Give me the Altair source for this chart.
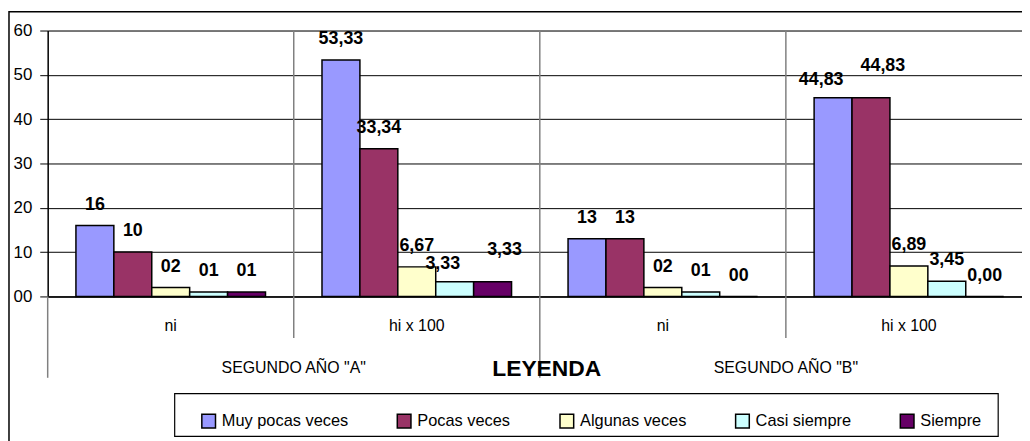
import altair as alt
import pandas as pd

# ---- data ----
series = ["Muy pocas veces", "Pocas veces", "Algunas veces", "Casi siempre", "Siempre"]
colors = ["#9999FF", "#993366", "#FFFFCC", "#CCFFFF", "#660066"]
groups = ["A|ni", "A|hi x 100", "B|ni", "B|hi x 100"]
group_labels = ["ni", "hi x 100", "ni", "hi x 100"]
sections = ['SEGUNDO AÑO "A"', 'SEGUNDO AÑO "B"']
section_groups = ["A|hi x 100", "B|hi x 100"]
vals_A_ni = [16, 10, 2, 1, 1]
vals_A_hi = [53.33, 33.34, 6.67, 3.33, 3.33]
vals_B_ni = [13, 13, 2, 1, 0]
vals_B_hi = [44.83, 44.83, 6.89, 3.45, 0.00]
y_ticks = [0, 10, 20, 30, 40, 50, 60]

FONT = "Liberation Sans"
W, H = 982, 268

rows = []
for g, vals in zip(groups, [vals_A_ni, vals_A_hi, vals_B_ni, vals_B_hi]):
    labs = []
    for v in vals:
        if g.endswith("|ni"):
            labs.append(f"{int(round(v)):02d}")
        else:
            labs.append(f"{v:.2f}".replace(".", ","))
    # stagger adjacent equal wide labels so they don't collide
    stag = ["mid"] * len(vals)
    for i in range(1, len(vals)):
        if vals[i] == vals[i - 1] and len(labs[i]) > 2 and vals[i] > 0:
            stag[i - 1] = "left" if stag[i - 1] == "mid" else stag[i - 1]
            stag[i] = "up"
    for s, v, lab, st in zip(series, vals, labs, stag):
        rows.append({"group": g, "serie": s, "value": v, "label": lab, "stag": st})
df = pd.DataFrame(rows)

gdf = pd.DataFrame({"group": groups, "glabel": group_labels,
                    "kind": ["long", "short", "long", "short"]})
sdf = pd.DataFrame({"group": section_groups, "section": sections})

xscale = alt.Scale(domain=groups, range=[0, 992], paddingInner=0, paddingOuter=0)
xoff = alt.Scale(domain=series, paddingInner=0, paddingOuter=0.745)
yscale = alt.Scale(domain=[0, 60], nice=False)

base_x = alt.X("group:N", scale=xscale, title=None,
               axis=alt.Axis(labels=False, ticks=False, domainColor="black",
                             domainWidth=1.5, grid=False))

bars = alt.Chart(df).mark_bar(stroke="black", strokeWidth=1.5).encode(
    x=base_x,
    xOffset=alt.XOffset("serie:N", scale=xoff, sort=series),
    y=alt.Y("value:Q", scale=yscale, title=None,
            axis=alt.Axis(values=y_ticks, format="02d", labelFont=FONT, labelFontSize=17,
                          labelColor="black", labelPadding=8, tickSize=8, tickColor="black",
                          domainColor="black", domainWidth=1.5, grid=True,
                          gridColor="black", gridWidth=1, gridOpacity=1)),
    color=alt.Color("serie:N", scale=alt.Scale(domain=series, range=colors), sort=series,
                    legend=alt.Legend(orient="none", legendX=154, legendY=385,
                                      direction="horizontal", title=None,
                                      symbolType="square", symbolSize=190,
                                      symbolStrokeColor="black", symbolStrokeWidth=1.5,
                                      symbolOpacity=1,
                                      labelFont=FONT, labelFontSize=16.5, labelColor="black",
                                      labelOffset=5, columnPadding=46, padding=0)),
)


def label_layer(stag, dx, dy):
    return alt.Chart(df).transform_filter(f"datum.stag == '{stag}'").mark_text(
        font=FONT, fontWeight="bold", fontSize=18, baseline="middle",
        dx=dx, dy=dy, color="black").encode(
        x=alt.X("group:N", scale=xscale, title=None),
        xOffset=alt.XOffset("serie:N", scale=xoff, sort=series),
        y=alt.Y("value:Q", scale=yscale, title=None),
        text="label:N",
    )


labels_mid = label_layer("mid", 0, -21)
labels_left = label_layer("left", -12, -18)
labels_up = label_layer("up", 12, -32)

grid_v = alt.Chart(gdf).transform_filter("datum.group != 'A|ni'").mark_rule(
    color="#808080", strokeWidth=1.5).encode(
    x=alt.X("group:N", scale=xscale, bandPosition=0, title=None),
    y=alt.value(0), y2=alt.value(H),
)
ticks_long = alt.Chart(gdf).transform_filter("datum.kind == 'long'").mark_rule(
    color="#808080", strokeWidth=1.5).encode(
    x=alt.X("group:N", scale=xscale, bandPosition=0, title=None),
    y=alt.value(H), y2=alt.value(H + 82),
)
ticks_short = alt.Chart(gdf).transform_filter("datum.kind == 'short'").mark_rule(
    color="#808080", strokeWidth=1.5).encode(
    x=alt.X("group:N", scale=xscale, bandPosition=0, title=None),
    y=alt.value(H), y2=alt.value(H + 42),
)

inner = alt.Chart(gdf).mark_text(font=FONT, fontSize=16, baseline="middle",
                                 align="center", color="black").encode(
    x=alt.X("group:N", scale=xscale, title=None),
    y=alt.value(H + 30),
    text="glabel:N",
)

sect = alt.Chart(sdf).mark_text(font=FONT, fontSize=16, baseline="middle",
                                align="center", color="black").encode(
    x=alt.X("group:N", scale=xscale, bandPosition=0, title=None),
    y=alt.value(H + 72),
    text="section:N",
)

leyenda = alt.Chart(pd.DataFrame({"t": ["LEYENDA"]})).mark_text(
    font=FONT, fontWeight="bold", fontSize=23, baseline="middle", color="black").encode(
    x=alt.value(503), y=alt.value(341), text="t:N")

legend_box = alt.Chart(pd.DataFrame({"t": [1]})).mark_rect(
    fillOpacity=0, stroke="black", strokeWidth=1.2).encode(
    x=alt.value(128), x2=alt.value(958), y=alt.value(366), y2=alt.value(409))

outer = alt.Chart(pd.DataFrame({"t": [1]})).mark_rect(
    fillOpacity=0, stroke="black", strokeWidth=1.5).encode(
    x=alt.value(-39), x2=alt.value(W + 60), y=alt.value(-19), y2=alt.value(H + 200))

chart = alt.layer(grid_v, ticks_long, ticks_short, bars, labels_mid, labels_left,
                  labels_up, inner, sect, leyenda, legend_box, outer).properties(
    width=W, height=H,
    autosize=alt.AutoSizeParams(type="none"),
    padding={"left": 40, "top": 21, "right": 0, "bottom": 144},
).configure_view(stroke=None).configure(background="white")

chart.save("out.html", embed_options={"renderer": "svg", "actions": False})
